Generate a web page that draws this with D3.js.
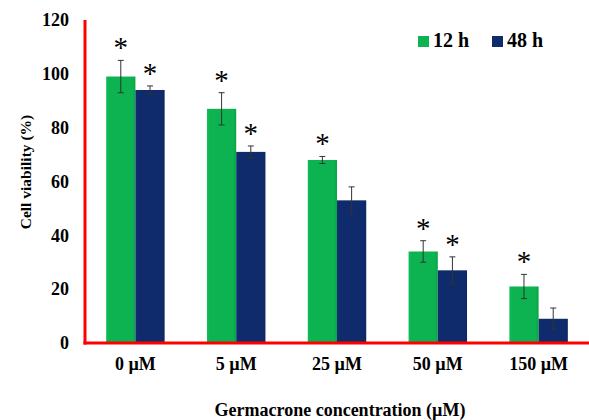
<!DOCTYPE html>
<html><head><meta charset="utf-8">
<script src="https://cdn.jsdelivr.net/npm/d3@7"></script>
<style>body{margin:0;background:#fff}svg{display:block}</style>
</head><body>
<script>
const categories = ["0 µM","5 µM","25 µM","50 µM","150 µM"];
const seriesNames = ["12 h","48 h"];
const values12h = [99, 87, 68, 34, 21];
const values48h = [94, 71, 53, 27, 9];
const err12h = [6, 6, 1.3, 4, 4.5];
const err48h = [1.5, 2.2, 5, 5, 4];
const sig12h = [true, true, true, true, true];
const sig48h = [true, true, false, true, false];
const yTicks = [0, 20, 40, 60, 80, 100, 120];

const W = 589, H = 420;
const m = {left: 85, right: 0, top: 20, bottom: 77};
const colors = ["#0cb350", "#0f2b6b"];
const font = "'Liberation Serif','Times New Roman',serif";

const svg = d3.select("body").append("svg").attr("width", W).attr("height", H);

const x0 = d3.scaleBand().domain(categories).range([m.left, W - m.right]).paddingInner(0.42).paddingOuter(0.21);
const x1 = d3.scaleBand().domain(seriesNames).range([0, x0.bandwidth()]);
const y = d3.scaleLinear().domain([0, 120]).range([H - m.bottom, m.top]);

const data = categories.map((c, i) => ({
  cat: c,
  bars: [
    {s: seriesNames[0], v: values12h[i], e: err12h[i], sig: sig12h[i], col: colors[0]},
    {s: seriesNames[1], v: values48h[i], e: err48h[i], sig: sig48h[i], col: colors[1]}
  ]
}));

const defs = svg.append("defs");
colors.forEach((c, i) => {
  const g = defs.append("linearGradient").attr("id", "g" + i).attr("x1", 0).attr("x2", 1).attr("y1", 0).attr("y2", 0);
  g.append("stop").attr("offset", "0").attr("stop-color", d3.color(c).brighter(0.2));
  g.append("stop").attr("offset", "0.1").attr("stop-color", c);
  g.append("stop").attr("offset", "0.9").attr("stop-color", c);
  g.append("stop").attr("offset", "1").attr("stop-color", d3.color(c).darker(0.3));
});

const groups = svg.append("g").selectAll("g").data(data).join("g")
  .attr("transform", d => `translate(${x0(d.cat)},0)`);

groups.selectAll("rect").data(d => d.bars).join("rect")
  .attr("x", d => x1(d.s))
  .attr("y", d => y(d.v))
  .attr("width", x1.bandwidth())
  .attr("height", d => y(0) - y(d.v))
  .attr("fill", (d, i) => `url(#g${i})`);

// error bars
const eb = groups.selectAll("g.eb").data(d => d.bars).join("g").attr("class", "eb");
eb.append("line")
  .attr("x1", d => x1(d.s) + x1.bandwidth() / 2).attr("x2", d => x1(d.s) + x1.bandwidth() / 2)
  .attr("y1", d => y(d.v + d.e)).attr("y2", d => y(d.v - d.e));
eb.append("line")
  .attr("x1", d => x1(d.s) + x1.bandwidth() / 2 - 3).attr("x2", d => x1(d.s) + x1.bandwidth() / 2 + 3)
  .attr("y1", d => y(d.v + d.e)).attr("y2", d => y(d.v + d.e));
eb.append("line")
  .attr("x1", d => x1(d.s) + x1.bandwidth() / 2 - 3).attr("x2", d => x1(d.s) + x1.bandwidth() / 2 + 3)
  .attr("y1", d => y(d.v - d.e)).attr("y2", d => y(d.v - d.e));
eb.selectAll("line").attr("stroke", "#333").attr("stroke-width", 1);

// asterisks
groups.selectAll("text.star").data(d => d.bars.filter(b => b.sig)).join("text").attr("class", "star")
  .attr("x", d => x1(d.s) + x1.bandwidth() / 2)
  .attr("y", d => y(d.v + d.e) - 3)
  .attr("text-anchor", "middle")
  .attr("font-family", font).attr("font-size", 29).attr("fill", "#000")
  .text("*");

// axes lines
svg.append("line").attr("x1", m.left).attr("x2", m.left).attr("y1", y(120)).attr("y2", y(0) + 1.5)
  .attr("stroke", "#ff0000").attr("stroke-width", 3);
svg.append("line").attr("x1", m.left - 1.5).attr("x2", W).attr("y1", y(0)).attr("y2", y(0))
  .attr("stroke", "#ff0000").attr("stroke-width", 3);

// y ticks
const yAxis = svg.append("g").attr("transform", `translate(${m.left},0)`)
  .call(d3.axisLeft(y).tickValues(yTicks).tickSize(0).tickPadding(16));
yAxis.select(".domain").remove();
yAxis.selectAll("text").attr("font-family", font).attr("font-size", 18).attr("font-weight", "bold").attr("fill", "#000");

// x ticks
const xAxis = svg.append("g").attr("transform", `translate(0,${y(0)})`)
  .call(d3.axisBottom(x0).tickSize(0).tickPadding(14));
xAxis.select(".domain").remove();
xAxis.selectAll("text").attr("font-family", font).attr("font-size", 18).attr("font-weight", "bold").attr("fill", "#000");

// titles
svg.append("text").attr("x", 340).attr("y", 416).attr("text-anchor", "middle")
  .attr("font-family", font).attr("font-size", 18).attr("font-weight", "bold")
  .text("Germacrone concentration (µM)");
svg.append("text").attr("transform", "translate(31,172) rotate(-90)").attr("text-anchor", "middle")
  .attr("font-family", font).attr("font-size", 15.5).attr("font-weight", "bold")
  .text("Cell viability (%)");

// legend
const leg = svg.append("g").selectAll("g").data(seriesNames).join("g")
  .attr("transform", (d, i) => `translate(${418 + i * 74},35)`);
leg.append("rect").attr("width", 11).attr("height", 11).attr("y", 1).attr("fill", (d, i) => colors[i]);
leg.append("text").attr("x", 15).attr("y", 12)
  .attr("font-family", font).attr("font-size", 20).attr("font-weight", "bold").text(d => d);
</script>
</body></html>
